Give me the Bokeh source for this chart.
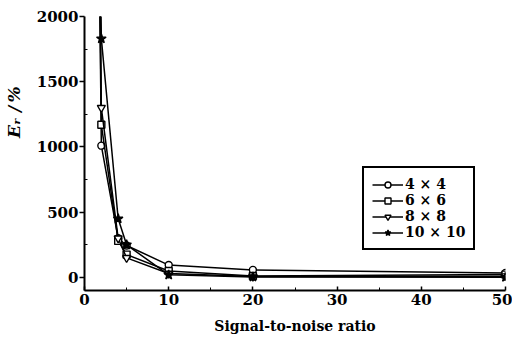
from bokeh.plotting import figure
from bokeh.models import Range1d, Legend, LegendItem, FixedTicker
from bokeh.embed import file_html
from bokeh.resources import INLINE

# Signal-to-noise ratio (x) and relative error E_r in % for each window size
snr = [1, 2, 4, 5, 10, 20, 50]
err_4x4 = [7000, 1010, 300, 245, 95, 58, 35]
err_6x6 = [7000, 1170, 280, 175, 50, 12, 22]
err_8x8 = [7000, 1300, 300, 150, 30, 8, 10]
err_10x10 = [7000, 1830, 450, 250, 20, 4, 2]
series_labels = ["4 \u00d7 4", "6 \u00d7 6", "8 \u00d7 8", "10 \u00d7 10"]
x_ticks = [0, 10, 20, 30, 40, 50]
y_ticks = [0, 500, 1000, 1500, 2000]

FONT = "DejaVu Serif"

p = figure(width=512, height=338, output_backend="svg", toolbar_location=None,
           x_range=Range1d(0, 50), y_range=Range1d(-100, 2000),
           min_border_left=84, min_border_right=7, min_border_top=16,
           min_border_bottom=48)
p.outline_line_color = None
p.grid.visible = False
p.background_fill_color = "white"
p.border_fill_color = "white"

# axes
p.xaxis.ticker = FixedTicker(ticks=x_ticks, minor_ticks=[5, 15, 25, 35, 45])
p.yaxis.ticker = FixedTicker(ticks=y_ticks, minor_ticks=[250, 750, 1250, 1750])
for ax in (p.xaxis, p.yaxis):
    ax.axis_line_width = 2
    ax.axis_line_color = "black"
    ax.major_tick_line_color = "black"
    ax.minor_tick_line_color = "black"
    ax.major_tick_line_width = 1.5
    ax.major_label_text_font = FONT
    ax.major_label_text_font_style = "bold"
    ax.major_label_text_font_size = "15px"
    ax.major_label_text_color = "black"
    ax.axis_label_text_font = FONT
    ax.axis_label_text_color = "black"

p.xaxis.major_tick_in = 4
p.xaxis.major_tick_out = 0
p.xaxis.minor_tick_in = 3
p.xaxis.minor_tick_out = 0
p.xaxis.major_label_standoff = 3
p.xaxis.axis_label = "Signal-to-noise ratio"
p.xaxis.axis_label_text_font_size = "14px"
p.xaxis.axis_label_text_font_style = "bold"
p.xaxis.axis_label_standoff = 10

p.yaxis.major_tick_in = 0
p.yaxis.major_tick_out = 5
p.yaxis.minor_tick_in = 3
p.yaxis.minor_tick_out = 0
p.yaxis.major_label_standoff = 1
p.yaxis.axis_label = "\u00a0" * 14 + "E\u1d63\u00a0/\u2009%"
p.yaxis.axis_label_text_font_size = "17px"
p.yaxis.axis_label_text_font_style = "bold italic"
p.yaxis.axis_label_standoff = 10

series = [err_4x4, err_6x6, err_8x8, err_10x10]
markers = ["circle", "square", "inverted_triangle", "star"]
fills = ["white", "white", "white", "black"]
sizes = [7, 7, 8, 10]
items = []
for vals, mk, fc, sz, lab in zip(series, markers, fills, sizes, series_labels):
    ln = p.line(snr, vals, line_color="black", line_width=1.5)
    sc = p.scatter(snr, vals, marker=mk, size=sz, fill_color=fc,
                   line_color="black", line_width=1.4)
    items.append(LegendItem(label=lab, renderers=[ln, sc]))

legend = Legend(items=items, location=(278, 40))
legend.border_line_color = "black"
legend.border_line_alpha = 1
legend.border_line_width = 2
legend.background_fill_color = "white"
legend.background_fill_alpha = 1
legend.label_text_font = FONT
legend.label_text_font_style = "bold"
legend.label_text_font_size = "14px"
legend.label_text_color = "black"
legend.label_height = 15
legend.glyph_height = 15
legend.glyph_width = 31
legend.label_standoff = 2
legend.spacing = 0
legend.padding = 8
legend.margin = 0
p.add_layout(legend, "center")

open("out.html", "w").write(file_html(p, INLINE))
